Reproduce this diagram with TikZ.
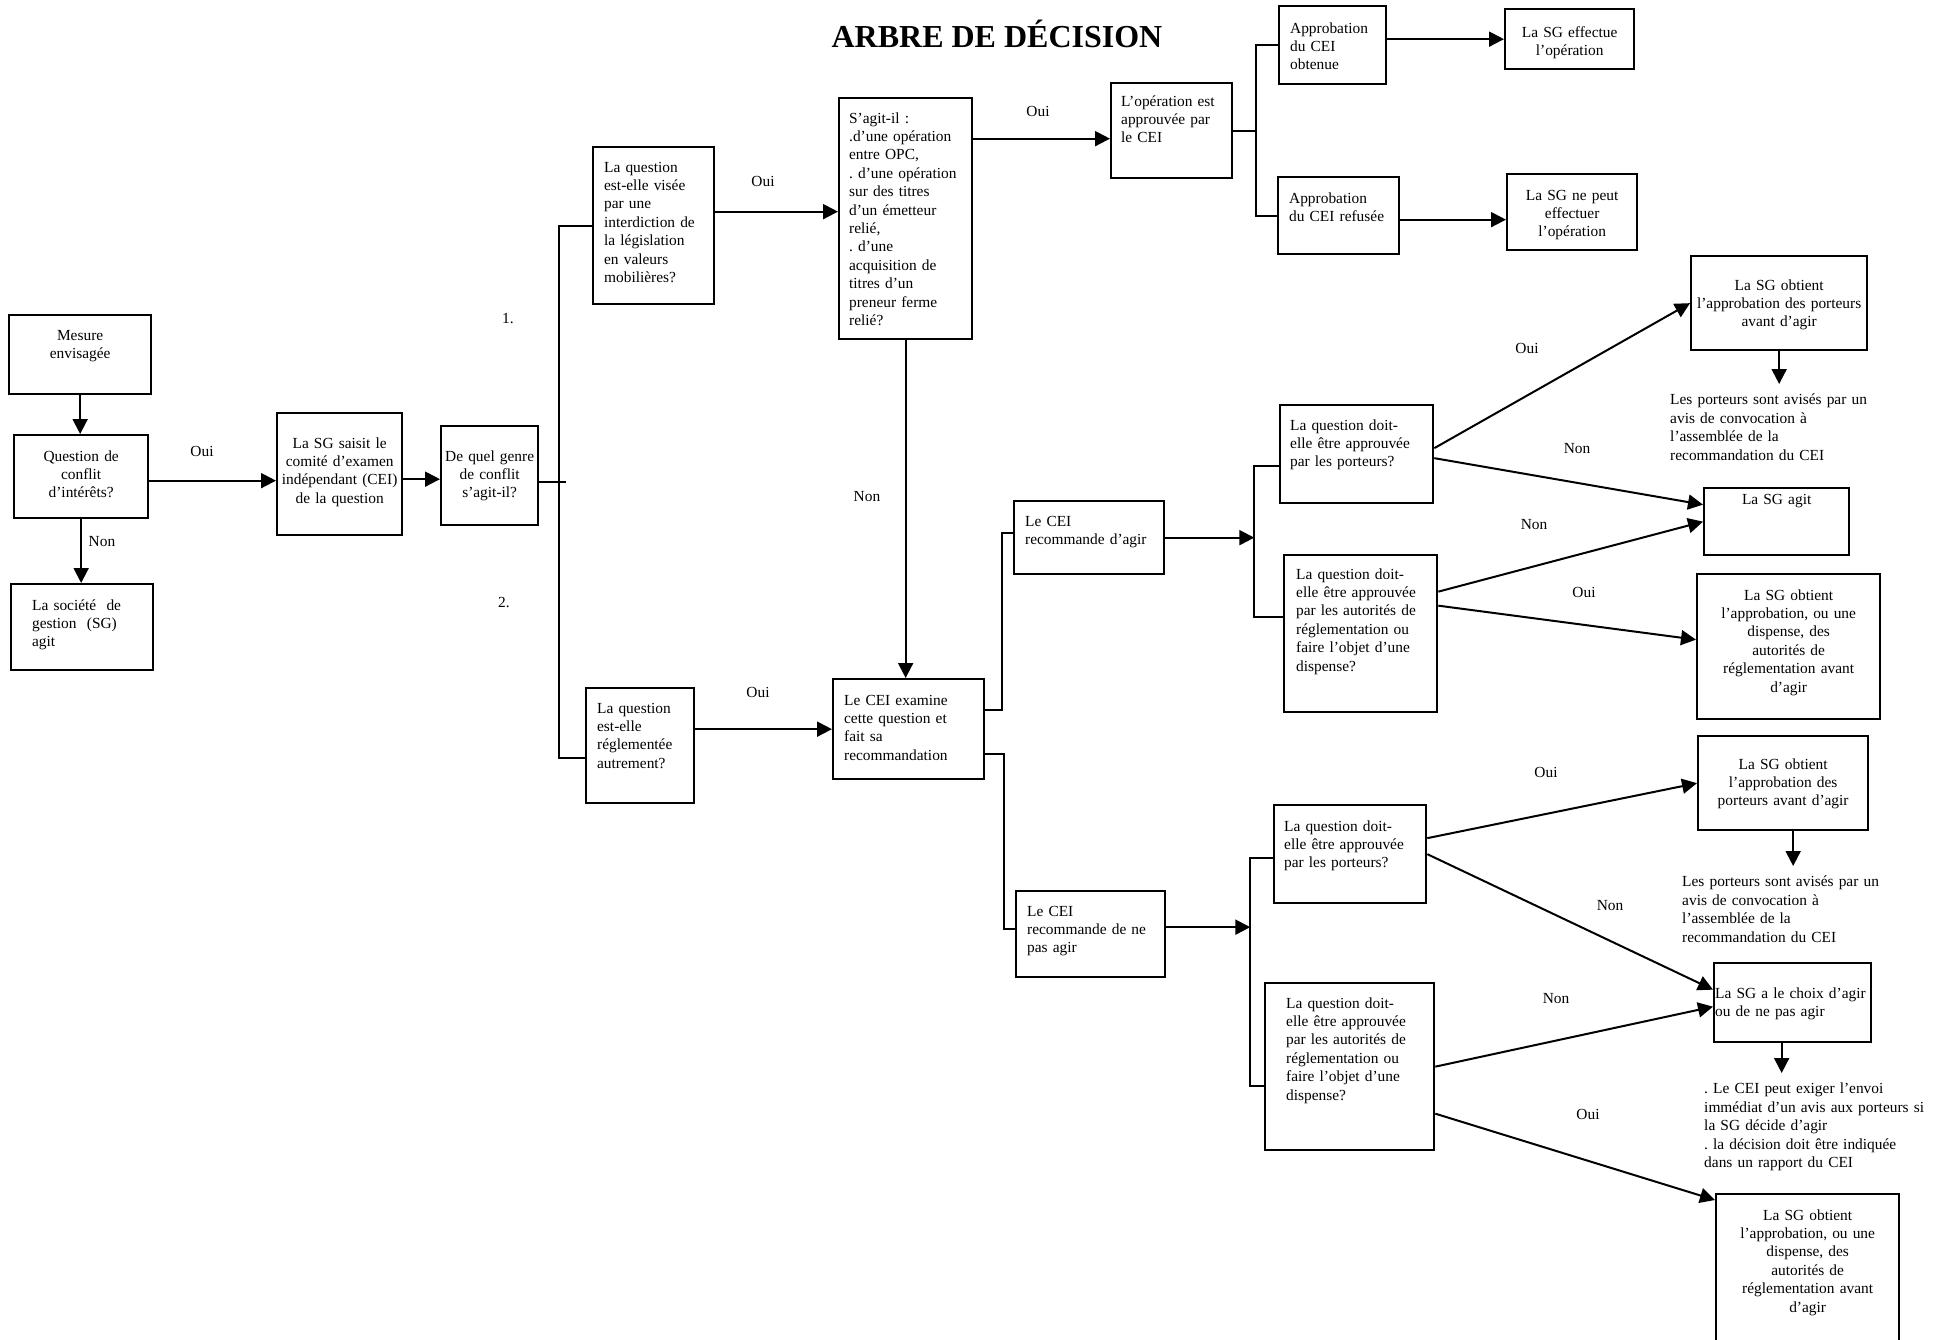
\documentclass[tikz,border=0pt]{standalone}
\usepackage{fontspec}
\setmainfont{Liberation Serif}
\usetikzlibrary{arrows.meta}
\hyphenpenalty=10000
\exhyphenpenalty=10000
\frenchspacing

\begin{document}
\begin{tikzpicture}[
    x=1pt, y=-1pt,
    font=\fontsize{15.4}{18.4}\selectfont,
    box/.style={rectangle, draw=black, line width=2.3pt, anchor=north west, inner ysep=0pt, inner xsep=11pt, align=left, text height=25pt},
    cbox/.style={box, inner xsep=3pt, align=center},
    link/.style={line width=2pt, draw=black},
    arr/.style={link, -{Triangle[length=15pt, width=15pt]}},
    answer/.style={inner sep=0pt},
    note/.style={anchor=north west, inner xsep=0pt, inner ysep=10pt, align=left}
]
\useasboundingbox (0,0) rectangle (1949,1339);

\node[font=\fontsize{32}{36}\selectfont\bfseries, anchor=base] (title) at (997,47) {ARBRE DE DÉCISION};

% left column
\node[cbox, text width=136pt, text depth=54pt] (mesure) at (8,314) {Mesure\\envisagée};
\node[cbox, text width=128pt, text depth=57pt, text height=26pt] (conflit) at (13,434) {Question de\\conflit\\d’intérêts?};
\node[box, inner xsep=21pt, text width=100pt, text depth=60pt, text height=26pt] (societe) at (10,583) {La société\ \ de\\gestion\ \ (SG)\\agit};
\node[cbox, inner xsep=1pt, text width=123pt, text depth=87pt, text height=35pt] (saisit) at (276,412) {La SG saisit le\\comité d’examen\\indépendant (CEI)\\de la question};
\node[cbox, inner xsep=2pt, text width=93pt, text depth=64pt, text height=35pt] (genre) at (440,425) {De quel genre\\de conflit\\s’agit-il?};

% kinds of conflict
\node[box, text width=99pt, text depth=132pt] (visee) at (592,146) {La question\\est-elle visée\\par une\\interdiction de\\la législation\\en valeurs\\mobilières?};
\node[box, text width=86pt, text depth=90pt] (reglem) at (585,687) {La question\\est-elle\\réglementée\\autrement?};
\node[box, inner xsep=10pt, text width=113pt, text depth=216pt] (agit) at (838,97) {S’agit-il :\\.d’une opération\\entre OPC,\\. d’une opération\\sur des titres\\d’un émetteur\\relié,\\. d’une\\acquisition de\\titres d’un\\preneur ferme\\relié?};
\node[box, text width=129pt, text depth=74pt, text height=26pt] (examine) at (832,678) {Le CEI examine\\cette question et\\fait sa\\recommandation};

% approval by the IRC
\node[box, inner xsep=10pt, text width=101pt, text depth=72pt, text height=23pt] (operation) at (1110,82) {L’opération est\\approuvée par\\le CEI};
\node[box, text width=85pt, text depth=51pt, text height=27pt] (obtenue) at (1278,5) {Approbation\\du CEI\\obtenue};
\node[box, text width=99pt, text depth=51pt, text height=26pt] (refusee) at (1277,176) {Approbation\\du CEI refusée};
\node[cbox, text width=123pt, text depth=32pt, text height=28pt] (effectue) at (1504,8) {La SG effectue\\l’opération};
\node[cbox, text width=124pt, text depth=50pt, text height=26pt] (nepeut) at (1506,173) {La SG ne peut\\effectuer\\l’opération};

% recommendation to act
\node[box, text width=128pt, text depth=48pt] (agir) at (1013,500) {Le CEI\\recommande d’agir};
\node[box, inner xsep=10pt, text width=133pt, text depth=73pt] (q1) at (1279,404) {La question doit-\\elle être approuvée\\par les porteurs?};
\node[box, inner xsep=12pt, text width=129pt, text depth=133pt, text height=24pt] (q2) at (1283,554) {La question doit-\\elle être approuvée\\par les autorités de\\réglementation ou\\faire l’objet d’une\\dispense?};
\node[cbox, inner xsep=1pt, text width=174pt, text depth=60pt, text height=34pt] (obt1) at (1690,255) {La SG obtient\\l’approbation des porteurs\\avant d’agir};
\node[cbox, text width=139pt, text depth=51pt, text height=16pt] (sgagit) at (1703,487) {La SG agit};
\node[cbox, text width=177pt, text depth=119pt, text height=26pt] (disp1) at (1696,573) {La SG obtient\\l’approbation, ou une\\dispense, des\\autorités de\\réglementation avant\\d’agir};
\node[note, text width=205pt] (note1) at (1670,384) {Les porteurs sont avisés par un\\avis de convocation à\\l’assemblée de la\\recommandation du CEI};

% recommendation not to act
\node[box, text width=127pt, text depth=61pt] (nepas) at (1015,890) {Le CEI\\recommande de ne\\pas agir};
\node[box, inner xsep=10pt, text width=132pt, text depth=72pt, text height=26pt] (q3) at (1273,804) {La question doit-\\elle être approuvée\\par les porteurs?};
\node[box, inner xsep=21pt, text width=127pt, text depth=142pt] (q4) at (1264,982) {La question doit-\\elle être approuvée\\par les autorités de\\réglementation ou\\faire l’objet d’une\\dispense?};
\node[cbox, text width=164pt, text depth=61pt, text height=33pt] (obt2) at (1697,735) {La SG obtient\\l’approbation des\\porteurs avant d’agir};
\node[box, inner xsep=1pt, text width=155pt, text depth=44pt, text height=35pt] (choix) at (1713,962) {La SG a le choix d’agir\\ou de ne pas agir};
\node[cbox, text width=177pt, text depth=134pt, text height=26pt] (disp2) at (1715,1193) {La SG obtient\\l’approbation, ou une\\dispense, des\\autorités de\\réglementation avant\\d’agir};
\node[note, text width=205pt] (note2) at (1682,866) {Les porteurs sont avisés par un\\avis de convocation à\\l’assemblée de la\\recommandation du CEI};
\node[note, text width=230pt] (note3) at (1704,1073) {. Le CEI peut exiger l’envoi\\immédiat d’un avis aux porteurs si\\la SG décide d’agir\\. la décision doit être indiquée\\dans un rapport du CEI};

% answers
\node[answer] (ouiA) at (202,451) {Oui};
\node[answer] (nonA) at (102,542) {Non};
\node[answer] (un) at (508,319) {1.};
\node[answer] (deux) at (504,603) {2.};
\node[answer] (ouiB) at (763,181) {Oui};
\node[answer] (ouiC) at (1038,111) {Oui};
\node[answer] (nonB) at (867,497) {Non};
\node[answer] (ouiD) at (758,692) {Oui};
\node[answer] (ouiE) at (1527,348) {Oui};
\node[answer] (nonC) at (1577,449) {Non};
\node[answer] (nonD) at (1534,525) {Non};
\node[answer] (ouiF) at (1584,592) {Oui};
\node[answer] (ouiG) at (1546,772) {Oui};
\node[answer] (nonE) at (1610,906) {Non};
\node[answer] (nonF) at (1556,999) {Non};
\node[answer] (ouiH) at (1588,1114) {Oui};

% forks
\coordinate (fork1) at (559,481);
\coordinate (fork2) at ([xshift=23pt]operation.east);
\coordinate (fork4) at ([xshift=89pt]agir.east);
\coordinate (fork5) at ([xshift=84pt, yshift=7pt]nepas.east);

% connectors
\draw[arr] (mesure.south) -- (mesure.south |- conflit.north);
\draw[arr] (conflit.south) -- (conflit.south |- societe.north);
\draw[arr] ([yshift=-4pt]conflit.east) -- ([yshift=-4pt]conflit.east -| saisit.west);
\draw[arr] ([yshift=-5pt]saisit.east) -- ([yshift=-5pt]saisit.east -| genre.west);
\draw[link] ([yshift=-6pt]genre.east) -- ++(27,0);
\draw[link] (visee.west) -| (fork1) |- ([yshift=-12pt]reglem.west);
\draw[arr] ([yshift=14pt]visee.east) -- ([yshift=14pt]visee.east -| agit.west);
\draw[arr] ([yshift=-8pt]operation.west -| agit.east) -- ([yshift=-8pt]operation.west);
\draw[arr] (agit.south) -- (agit.south |- examine.north);
\draw[arr] (reglem.east |- examine.west) -- (examine.west);

\draw[link] (operation.east) -- (fork2);
\draw[link] (obtenue.west) -| (fork2) |- (refusee.west);
\draw[arr] (obtenue.east |- effectue.west) -- (effectue.west);
\draw[arr] ([yshift=-4pt]refusee.east) -- ([yshift=-4pt]refusee.east -| nepeut.west);

\draw[link] ([yshift=19pt]examine.east) -- ++(17,0) |- ([yshift=5pt]agir.west);
\draw[link] ([yshift=-25pt]examine.east) -- ++(19,0) |- ([yshift=5pt]nepas.west);

\draw[arr] (agir.east) -- (fork4);
\draw[link] ([yshift=-12pt]q1.west) -| (fork4) |- ([yshift=17pt]q2.west);
\draw[arr] ([yshift=6pt]q1.east) -- (obt1.west);
\draw[arr] ([yshift=-4pt]q1.east) -- ([yshift=17pt]sgagit.west);
\draw[arr] ([yshift=42pt]q2.east) -- (sgagit.west);
\draw[arr] ([yshift=28pt]q2.east) -- ([yshift=7pt]disp1.west);
\draw[arr] (obt1.south) -- (obt1.south |- note1.north);

\draw[arr] (nepas.east |- fork5) -- (fork5);
\draw[link] ([yshift=-4pt]q3.west) -| (fork5) |- ([yshift=-19pt]q4.west);
\draw[arr] ([yshift=16pt]q3.east) -- (obt2.west);
\draw[arr] (q3.east) -- ([yshift=13pt]choix.west);
\draw[arr] (q4.east) -- ([yshift=-4pt]choix.west);
\draw[arr] ([yshift=-47pt]q4.east) -- ([yshift=-7pt]disp2.north west);
\draw[arr] ([xshift=10pt]obt2.south) -- ([xshift=10pt]obt2.south |- note2.north);
\draw[arr] ([xshift=-11pt]choix.south) -- ([xshift=-11pt]choix.south |- note3.north);

\end{tikzpicture}
\end{document}
